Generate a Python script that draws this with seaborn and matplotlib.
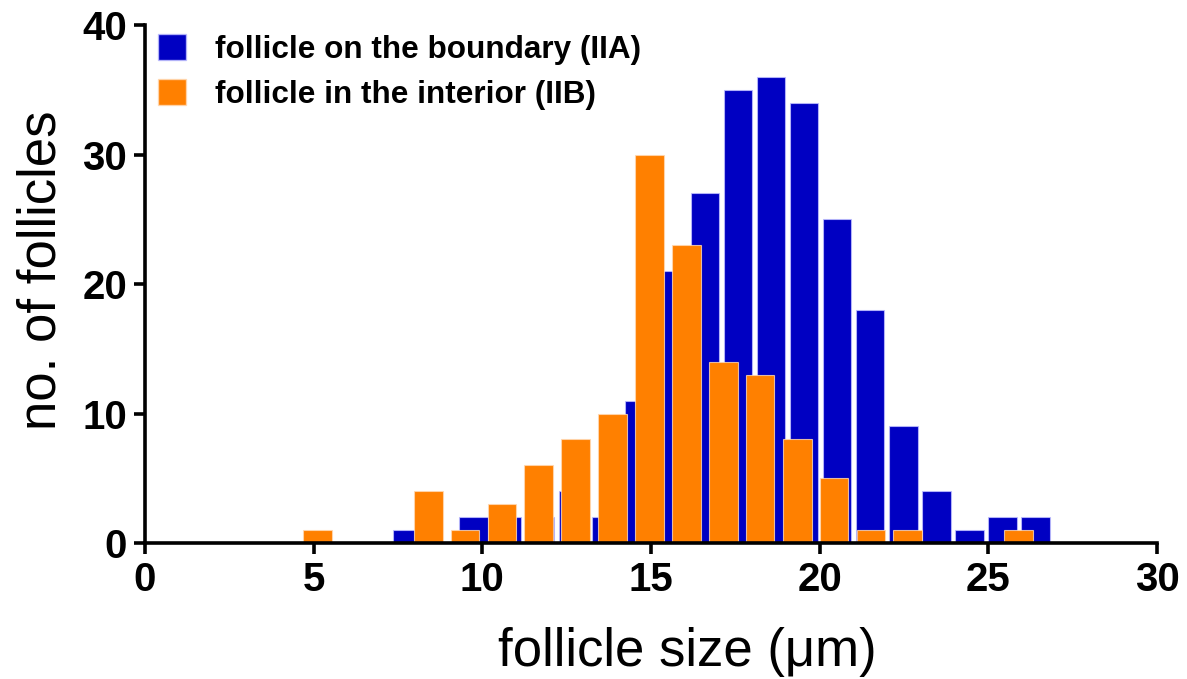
import numpy as np
import pandas as pd
import matplotlib
matplotlib.use("Agg")
import matplotlib.pyplot as plt
from matplotlib.patches import Patch
import seaborn as sns

# ---- data ----
blue_label = "follicle on the boundary (IIA)"
orange_label = "follicle in the interior (IIB)"

blue_centers = [7.78, 8.76, 9.74, 10.72, 11.70, 12.68, 13.66, 14.64, 15.62, 16.60,
                17.58, 18.56, 19.54, 20.52, 21.50, 22.48, 23.46, 24.44, 25.42, 26.40]
blue_counts = [1, 0, 2, 2, 2, 4, 2, 11, 21, 27, 35, 36, 34, 25, 18, 9, 4, 1, 2, 2]
blue_binwidth = 0.98

orange_centers = [5.11, 6.20, 7.30, 8.39, 9.49, 10.58, 11.67, 12.77, 13.86, 14.96,
                  16.05, 17.14, 18.24, 19.33, 20.43, 21.52, 22.61, 23.71, 24.80, 25.90]
orange_counts = [1, 0, 0, 4, 1, 3, 6, 8, 10, 30, 23, 14, 13, 8, 5, 1, 1, 0, 0, 1]
orange_binwidth = 1.094

x_ticks = [0, 5, 10, 15, 20, 25, 30]
y_ticks = [0, 10, 20, 30, 40]
x_label = "follicle size (\u03bcm)"
y_label = "no. of follicles"

BLUE = "#0000C2"
ORANGE = "#FF8000"

sns.set_style("ticks")
plt.rcParams["font.family"] = ["Liberation Sans", "DejaVu Sans"]
plt.rcParams["text.color"] = "black"
plt.rcParams["axes.labelcolor"] = "black"
plt.rcParams["xtick.color"] = "black"
plt.rcParams["ytick.color"] = "black"

fig = plt.figure(figsize=(11.87, 6.79), dpi=100)
ax = fig.add_axes([145 / 1187, 1 - 543 / 679, (1157 - 145) / 1187, (543 - 25) / 679])


def edges_from(centers, bw):
    c = np.asarray(centers, dtype=float)
    return [float(v) for v in np.concatenate([c - bw / 2, [c[-1] + bw / 2]])]


df_b = pd.DataFrame({"size": blue_centers, "n": blue_counts})
df_o = pd.DataFrame({"size": orange_centers, "n": orange_counts})

sns.histplot(data=df_b, x="size", weights="n", bins=edges_from(blue_centers, blue_binwidth),
             shrink=0.86, color=BLUE, alpha=1, edgecolor=(0.75, 0.75, 1.0, 0.8),
             linewidth=0.8, ax=ax)
sns.histplot(data=df_o, x="size", weights="n", bins=edges_from(orange_centers, orange_binwidth),
             shrink=0.775, color=ORANGE, alpha=1, edgecolor=(1.0, 0.85, 0.7, 0.8),
             linewidth=0.8, ax=ax)

ax.set_xlim(0, 30)
ax.set_ylim(0, 40)
ax.set_xticks(x_ticks)
ax.set_yticks(y_ticks)
ax.set_xticklabels([str(t) for t in x_ticks], fontsize=29, fontweight="bold", color="black")
ax.set_yticklabels([str(t) for t in y_ticks], fontsize=29, fontweight="bold", color="black")
ax.tick_params(axis="both", direction="out", length=8, width=2.6, color="black", pad=5)
ax.set_xlabel(x_label, fontsize=38, color="black")
ax.xaxis.set_label_coords(0.5356, -0.163)
ax.set_ylabel(y_label, fontsize=38, color="black")
ax.yaxis.set_label_coords(-0.078, 0.527)

sns.despine(ax=ax)
for s in ["left", "bottom"]:
    ax.spines[s].set_linewidth(2.6)
    ax.spines[s].set_color("black")
ax.spines["left"].set_zorder(5)
ax.spines["bottom"].set_zorder(5)
ax.grid(False)

handles = [Patch(facecolor=BLUE, edgecolor=(0.75, 0.75, 1.0, 0.8)),
           Patch(facecolor=ORANGE, edgecolor=(1.0, 0.85, 0.7, 0.8))]
leg = ax.legend(handles, [blue_label, orange_label], loc="upper left",
                bbox_to_anchor=(13 / 1012, 1 - 9 / 518), frameon=False,
                prop={"size": 22.7, "weight": "bold"},
                handlelength=0.9, handleheight=0.9, handletextpad=0.92,
                labelspacing=0.45, borderaxespad=0.0, borderpad=0.0)
for t in leg.get_texts():
    t.set_color("black")

fig.savefig("out.png", dpi=100)
